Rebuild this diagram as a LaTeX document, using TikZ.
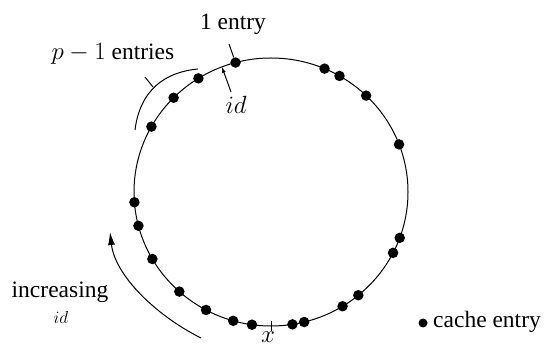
\documentclass[tikz,border=0pt]{standalone}
\usepackage{fontspec}
\setmainfont{Liberation Serif}
\usetikzlibrary{calc,arrows.meta}
\begin{document}
\begin{tikzpicture}[x=1pt,y=-1pt,
  dot/.style={circle,fill=black,inner sep=0pt,minimum size=10.5pt},
  lbl/.style={font=\fontsize{23.5}{27}\selectfont, inner sep=0pt},
  small/.style={font=\fontsize{18}{21}\selectfont, inner sep=0pt},
  ring/.style={line width=1pt}]
\useasboundingbox (0,0) rectangle (549,347);
\clip (0,0) rectangle (549,347);
\coordinate (C) at (271,192);
\draw[ring] (C) ellipse [x radius=137pt, y radius=134pt];
\foreach \a [count=\i] in {105,122,135.3,150.8,184.4,194.6,210,228,241.7,254,262,279,284,301.5,309.6,333,340,20.8,46,60,67}
  \node[dot] (d\i) at ($(C)+(\a:137pt and 134pt)$) {};
% 1 entry
\node[lbl] (one) at (233,24) {1 entry};
\coordinate (t1) at (229,44);
\draw[ring] (t1) -- (d1);
% id arrow
\node[lbl] (idl) at (236,105) {$id$};
\coordinate (ids) at (231,92);
\coordinate (ida) at ($(C)+(111:137pt and 134pt)$);
\draw[ring,-{Latex[length=6pt,width=4pt]}] (ids) -- (ida);
% p-1 entries
\node[lbl] (pl) at (113,54) {$p-1$ entries};
\coordinate (pa) at (135,130);
\coordinate (pb) at (198,69);
\coordinate (pm) at (153,87);
\coordinate (pt) at (145,77);
\draw[ring] (pa) .. controls (140,90) and (165,72) .. (pb);
\draw[ring] (pm) -- (pt);
% increasing id
\coordinate (ia) at (201,338);
\coordinate (ib) at (110,232);
\draw[ring,-{Latex[length=13pt,width=7pt]}] (ia) .. controls (155,315) and (115,275) .. (ib);
\node[lbl] (inc) at (60,292) {increasing};
\node[small] (incid) at (61,318) {$id$};
% x tick
\coordinate (xa) at (271,321);
\coordinate (xb) at (271,331);
\draw[ring] (xa) -- (xb);
\node[lbl] (xl) at (268,337) {$x$};
% legend
\node[dot,minimum size=9pt] (ld) at (423,323) {};
\node[lbl,anchor=west] (lt) at (433,322) {cache entry};
\end{tikzpicture}
\end{document}
